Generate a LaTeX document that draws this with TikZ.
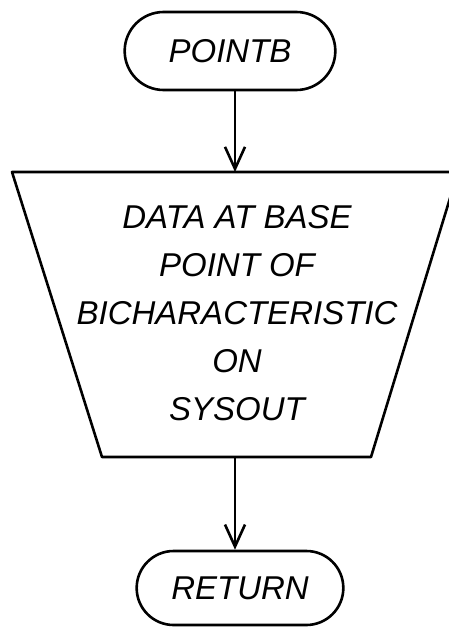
\documentclass[tikz,border=0pt]{standalone}
\usepackage{fontspec}
\setmainfont{Liberation Sans}
\usetikzlibrary{arrows.meta,shapes.misc}

\begin{document}
\begin{tikzpicture}[
  x=0.5pt, y=-0.5pt,
  term/.style={draw, line width=1.3pt, rounded rectangle, minimum width=112pt,
               minimum height=39pt, font=\fontsize{16.5}{20}\selectfont\itshape},
  arr/.style={-{Straight Barb[length=11pt,width=10pt]}, line width=1.3pt},
  txt/.style={align=center, font=\fontsize{16.5}{24}\selectfont\itshape}
]
  \clip (0,0) rectangle (449,627);
  \node[term] (pointb) at (230,51) {POINTB};
  % output trapezoid, cut off at the right by the page
  \coordinate (tl) at (12,172);
  \coordinate (tr) at (458,172);
  \coordinate (br) at (371,457);
  \coordinate (bl) at (102,457);
  \draw[line width=1.3pt, line join=round] (tl) -- (tr) -- (br) -- (bl) -- cycle;
  \coordinate (dtop) at (235,172);
  \coordinate (dbot) at (235,457);
  \node[txt] (data) at (237,313) {DATA AT BASE\\POINT OF\\BICHARACTERISTIC\\ON\\SYSOUT};
  \node[term, minimum width=110pt, minimum height=37pt] (return) at (240,588) {RETURN};

  \draw[arr] (pointb.south -| dtop) -- (dtop);
  \draw[arr] (dbot) -- (return.north -| dbot);
\end{tikzpicture}
\end{document}
